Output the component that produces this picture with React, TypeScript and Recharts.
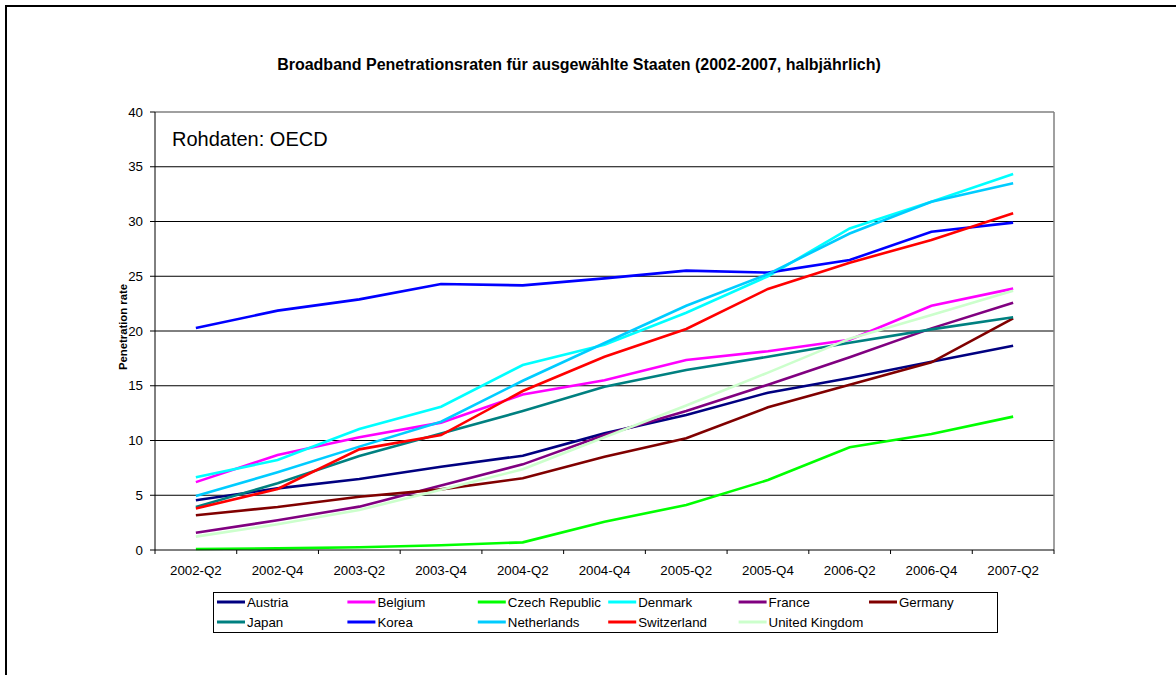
import React from 'react';
import { LineChart, Line, XAxis, YAxis, CartesianGrid } from 'recharts';

const categories = ['2002-Q2', '2002-Q4', '2003-Q2', '2003-Q4', '2004-Q2', '2004-Q4', '2005-Q2', '2005-Q4', '2006-Q2', '2006-Q4', '2007-Q2'];

const austria = [4.54, 5.63, 6.48, 7.61, 8.61, 10.65, 12.33, 14.37, 15.7, 17.2, 18.66];
const belgium = [6.2, 8.68, 10.29, 11.63, 14.2, 15.5, 17.35, 18.15, 19.2, 22.31, 23.87];
const czech = [0.09, 0.15, 0.25, 0.43, 0.7, 2.58, 4.11, 6.39, 9.38, 10.59, 12.18];
const denmark = [6.64, 8.22, 11.05, 13.09, 16.89, 18.75, 21.67, 25.0, 29.37, 31.81, 34.34];
const france = [1.58, 2.71, 3.96, 5.9, 7.82, 10.5, 12.7, 15.1, 17.6, 20.24, 22.59];
const germany = [3.17, 3.93, 4.87, 5.54, 6.55, 8.52, 10.2, 13.03, 15.1, 17.14, 21.16];
const japan = [3.93, 6.1, 8.58, 10.65, 12.69, 14.9, 16.44, 17.65, 18.93, 20.15, 21.25];
const korea = [20.27, 21.86, 22.89, 24.29, 24.17, 24.81, 25.51, 25.33, 26.48, 29.07, 29.9];
const netherlands = [4.93, 7.1, 9.44, 11.72, 15.46, 18.9, 22.31, 25.2, 28.9, 31.81, 33.49];
const switzerland = [3.8, 5.57, 9.19, 10.5, 14.52, 17.65, 20.18, 23.84, 26.24, 28.31, 30.75];
const unitedKingdom = [1.22, 2.35, 3.65, 5.5, 7.37, 10.3, 13.2, 16.2, 19.3, 21.46, 23.68];

const yTicks = [0, 5, 10, 15, 20, 25, 30, 35, 40];

const series = [
  { name: 'Austria', values: austria, color: '#000080' },
  { name: 'Belgium', values: belgium, color: '#FF00FF' },
  { name: 'Czech Republic', values: czech, color: '#00FF00' },
  { name: 'Denmark', values: denmark, color: '#00FFFF' },
  { name: 'France', values: france, color: '#800080' },
  { name: 'Germany', values: germany, color: '#800000' },
  { name: 'Japan', values: japan, color: '#008080' },
  { name: 'Korea', values: korea, color: '#0000FF' },
  { name: 'Netherlands', values: netherlands, color: '#00CCFF' },
  { name: 'Switzerland', values: switzerland, color: '#FF0000' },
  { name: 'United Kingdom', values: unitedKingdom, color: '#CCFFCC' },
];

const data = categories.map((c, i) => {
  const row: Record<string, number | string> = { idx: i, cat: c };
  series.forEach((s) => {
    row[s.name] = s.values[i];
  });
  return row;
});

const xTicks: number[] = [];
for (let i = 0; i <= categories.length * 2; i++) xTicks.push(-0.5 + i * 0.5);

const FONT = "Arial, 'Liberation Sans', sans-serif";

const XTick = (props: any) => {
  const { x, y, payload } = props;
  const v = payload.value as number;
  const isEdge = Math.abs(v - Math.round(v)) > 0.25;
  if (isEdge) {
    return <line x1={x} y1={y} x2={x} y2={y + 4} stroke="#000" strokeWidth={1} />;
  }
  return (
    <text x={x} y={y + 25} textAnchor="middle" fontSize={13.3} fontFamily={FONT} fill="#000">
      {categories[Math.round(v)]}
    </text>
  );
};

export default function App() {
  const legendLeft = 213;
  const legendTop = 592;
  const colW = 130.4;
  return (
    <div style={{ position: 'absolute', left: 0, top: 0, width: 1176, height: 675, background: '#fff', overflow: 'hidden' }}>
      <div style={{ position: 'absolute', left: 0, top: 0 }}>
        <LineChart
          width={1176}
          height={675}
          data={data}
          margin={{ top: 112, right: 122, left: 95, bottom: 95 }}
        >
          <CartesianGrid horizontal vertical={false} horizontalValues={[5, 10, 15, 20, 25, 30, 35]} stroke="#000" strokeWidth={1} />
          <CartesianGrid horizontal vertical horizontalValues={[40]} verticalValues={[10.5]} stroke="#808080" strokeWidth={1.5} />
          <XAxis
            dataKey="idx"
            type="number"
            domain={[-0.5, 10.5]}
            ticks={xTicks}
            interval={0}
            tickLine={false}
            tickSize={0}
            tickMargin={0}
            height={30}
            axisLine={{ stroke: '#000', strokeWidth: 1 }}
            tick={<XTick />}
            allowDataOverflow
          />
          <YAxis
            type="number"
            domain={[0, 40]}
            ticks={yTicks}
            interval={0}
            width={60}
            tickSize={5}
            tickMargin={7}
            axisLine={{ stroke: '#000', strokeWidth: 1 }}
            tickLine={{ stroke: '#000', strokeWidth: 1 }}
            tick={{ fill: '#000', fontSize: 13.3, fontFamily: FONT }}
          />
          {series.map((s) => (
            <Line
              key={s.name}
              type="linear"
              dataKey={s.name}
              stroke={s.color}
              strokeWidth={2.6}
              dot={false}
              isAnimationActive={false}
            />
          ))}
        </LineChart>
      </div>
      <svg width={1176} height={675} style={{ position: 'absolute', left: 0, top: 0, pointerEvents: 'none' }}>
        <line x1={6} y1={6} x2={1176} y2={6} stroke="#000" strokeWidth={2} />
        <line x1={6} y1={5} x2={6} y2={675} stroke="#000" strokeWidth={2} />
        <text x={579} y={70} textAnchor="middle" fontSize={16} fontWeight="bold" fontFamily={FONT} fill="#000">
          Broadband Penetrationsraten für ausgewählte Staaten (2002-2007, halbjährlich)
        </text>
        <text x={172} y={146} fontSize={20} fontFamily={FONT} fill="#000">
          Rohdaten: OECD
        </text>
        <text x={127} y={327} transform="rotate(-90 127 327)" textAnchor="middle" fontSize={11.3} fontWeight="bold" fontFamily={FONT} fill="#000">
          Penetration rate
        </text>
        <rect x={legendLeft + 0.5} y={legendTop + 0.5} width={784} height={40} fill="#fff" stroke="#000" strokeWidth={1} />
        {series.map((s, i) => {
          const col = i % 6;
          const row = Math.floor(i / 6);
          const x0 = legendLeft + 4 + col * colW;
          const cy = legendTop + 10 + row * 20;
          return (
            <g key={s.name}>
              <line x1={x0} y1={cy} x2={x0 + 28} y2={cy} stroke={s.color} strokeWidth={3} />
              <text x={x0 + 30} y={cy + 5} fontSize={13.3} fontFamily={FONT} fill="#000">
                {s.name}
              </text>
            </g>
          );
        })}
      </svg>
    </div>
  );
}
